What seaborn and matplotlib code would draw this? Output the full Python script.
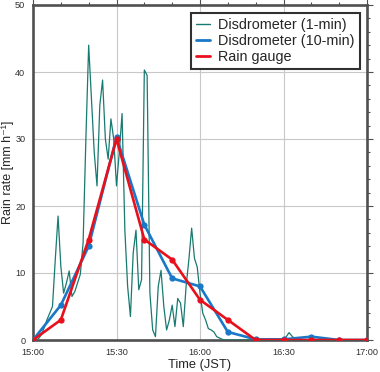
import numpy as np
import pandas as pd
import seaborn as sns
import matplotlib
matplotlib.use("Agg")
from matplotlib import pyplot as plt
import matplotlib.dates as mdates
from matplotlib.lines import Line2D

# 1-min disdrometer rain rate, 15:00 .. 17:00 (mm/h)
rate_1min = [
    0, 0, 0.2, 0.8, 1.8, 3, 4, 5, 12, 18.5,
    11, 7, 8.5, 10.3, 6.5, 7.2, 8.5, 9.8, 14.5, 30,
    44, 36, 28, 23, 35, 38.8, 30, 27, 33, 30,
    23, 28, 33.8, 16.4, 8, 3.5, 13, 16.4, 7.5, 9,
    40.3, 39.5, 7, 1.5, 0.5, 8, 10.4, 5, 1.5, 3,
    5.2, 2, 6.2, 5.5, 2, 8, 12, 16.7, 12.2, 10.9,
    7, 4, 3, 1.7, 1.5, 1.2, 0.5, 0.3, 0.1, 0,
    0, 0, 0, 0, 0, 0, 0, 0, 0, 0,
    0, 0, 0, 0, 0, 0, 0, 0, 0, 0,
    0, 0.5, 1.1, 0.6, 0.2, 0, 0, 0, 0, 0,
    0, 0, 0, 0, 0, 0, 0, 0, 0, 0,
    0, 0, 0, 0, 0, 0, 0, 0, 0, 0,
    0,
]
# 10-min disdrometer and rain gauge
rate_10min = [0, 5.2, 14.0, 30.3, 17.2, 9.2, 8.0, 1.2, 0.1, 0.1, 0.5, 0, 0]
gauge = [0, 3.0, 15.0, 30.0, 15.0, 12.0, 6.0, 3.0, 0, 0, 0, 0, 0]

t_1min = pd.date_range("2020-01-01 15:00", periods=len(rate_1min), freq="1min")
t_10min = pd.date_range("2020-01-01 15:00", periods=len(rate_10min), freq="10min")

df1 = pd.DataFrame({"time": t_1min, "rate": rate_1min})
df10 = pd.DataFrame({"time": t_10min, "disd": rate_10min, "gauge": gauge})

sns.set_style("white")
plt.rcParams["font.family"] = ["Liberation Sans", "DejaVu Sans"]

c_green = "#187a70"
c_blue = "#1a78c8"
c_red = "#e8101c"

fig = plt.figure(figsize=(3.8, 3.72), dpi=100)
ax = fig.add_axes([33 / 380, 32 / 372, 334 / 380, 335 / 372])

sns.lineplot(data=df1, x="time", y="rate", ax=ax, color=c_green, linewidth=0.9, zorder=3)
sns.lineplot(data=df10, x="time", y="disd", ax=ax, color=c_blue, linewidth=1.9,
             marker="o", markersize=4.5, markeredgewidth=0, zorder=4)
sns.lineplot(data=df10, x="time", y="gauge", ax=ax, color=c_red, linewidth=1.9,
             marker="o", markersize=4.5, markeredgewidth=0, zorder=5)

ax.set_xlim(t_1min[0], t_1min[-1])
ax.set_ylim(0, 50)
ax.xaxis.set_major_locator(mdates.MinuteLocator(byminute=[0, 30]))
ax.xaxis.set_minor_locator(mdates.MinuteLocator(byminute=range(0, 60, 10)))
ax.xaxis.set_major_formatter(mdates.DateFormatter("%H:%M"))
ax.yaxis.set_major_locator(plt.MultipleLocator(10))
ax.yaxis.set_minor_locator(plt.MultipleLocator(2))

ax.grid(True, which="major", color="#c8c8c8", linewidth=0.8)
ax.set_axisbelow(True)

for s in ax.spines.values():
    s.set_visible(True)
    s.set_color("#505050")
    s.set_linewidth(1.9)

ax.tick_params(which="both", direction="out", top=True, right=True, color="#505050",
               labelsize=6.6, pad=1.5, labelcolor="#303030")
ax.tick_params(which="major", length=4, width=0.8)
ax.tick_params(which="minor", length=2.5, width=0.8)

ax.set_xlabel("Time (JST)", fontsize=9.3, labelpad=2)
ax.set_ylabel("Rain rate [mm h\u207b\u00b9]", fontsize=9.0)
ax.yaxis.label.set_verticalalignment("center")
ax.yaxis.set_label_coords(-0.075, 0.5)

handles = [
    Line2D([], [], color=c_green, linewidth=1.0),
    Line2D([], [], color=c_blue, linewidth=2.0),
    Line2D([], [], color=c_red, linewidth=2.0),
]
labels = ["Disdrometer (1-min)", "Disdrometer (10-min)", "Rain gauge"]
leg = ax.legend(handles, labels, loc="upper right", bbox_to_anchor=(0.979, 0.976),
                borderaxespad=0, fontsize=10.4, frameon=True, fancybox=False,
                handlelength=0.95, handletextpad=0.6, labelspacing=0.12,
                borderpad=0.35)
leg.get_frame().set_edgecolor("#303030")
leg.get_frame().set_linewidth(1.5)
leg.get_frame().set_facecolor("white")
leg.get_frame().set_alpha(1)

fig.savefig("out.png", dpi=100)
